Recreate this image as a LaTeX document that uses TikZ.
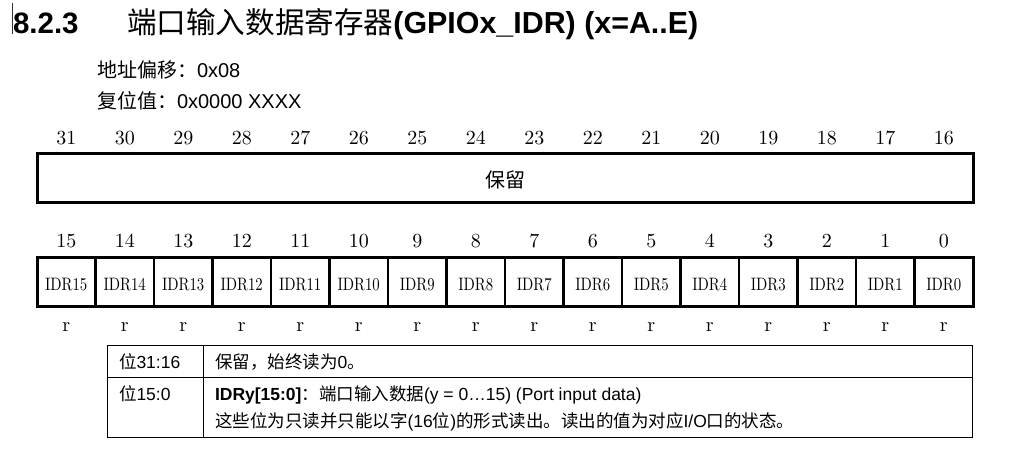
\documentclass[tikz,border=0pt]{standalone}
\usepackage{fontspec}
\newfontfamily\cjk{Noto Sans CJK SC}
\newfontfamily\arial{Liberation Sans}
\newfontfamily\lmcond[FakeStretch=0.82]{lmroman10-regular.otf}
\newfontfamily\lmreg{lmroman10-regular.otf}
\begin{document}
\begin{tikzpicture}[x=1pt,y=-1pt,
  txt/.style={inner sep=0pt,outer sep=0pt},
  title/.style={txt,anchor=base west},
  bitnum/.style={txt,anchor=base,font=\fontsize{20}{24}\selectfont\lmreg},
  idrlab/.style={txt,anchor=base,font=\fontsize{18}{22}\selectfont\lmcond},
  regline/.style={line width=3pt},
  divline/.style={line width=2.4pt},
  tabline/.style={line width=1pt},
  tabtxt/.style={txt,anchor=base west,font=\fontsize{17.5}{21}\selectfont\arial}]
\useasboundingbox (0,0) rectangle (1009,467);
% cursor line
\draw[line width=1pt,black!80] (12,3) -- (12,34);
% title
\node[title] (secnum) at (13,33) {\fontsize{29.5}{32}\selectfont\arial\bfseries 8.2.3};
\node[title] (sectitle) at (127,33) {\fontsize{29.6}{32}\selectfont\cjk 端口输入数据寄存器\fontsize{30.4}{32}\selectfont\arial\bfseries(GPIOx\_IDR) (x=A..E)};
\node[title] (offset) at (97,77.5) {\fontsize{20}{24}\selectfont\cjk 地址偏移：\arial 0x08};
\node[title] (reset) at (97,108.5) {\fontsize{20}{24}\selectfont\cjk 复位值：\arial 0x0000 XXXX};
% upper register
\draw[regline] (37,153) rectangle (973,202);
\node[txt,font=\fontsize{20}{24}\selectfont\cjk] (resv) at (505,180) {保留};
\foreach \i in {0,...,15} {
  \pgfmathtruncatemacro{\hb}{31-\i}
  \node[bitnum] (hb\hb) at ({37+58.5*(\i+0.5)},144) {\hb};
}
% lower register
\draw[regline] (37,257) rectangle (973,306);
\foreach \i in {1,...,15} {
  \draw[divline] ({37+58.5*\i},257) -- ({37+58.5*\i},306);
}
\foreach \i in {0,...,15} {
  \pgfmathtruncatemacro{\lb}{15-\i}
  \node[bitnum] (lb\lb) at ({37+58.5*(\i+0.5)},247) {\lb};
  \node[idrlab] (idr\lb) at ({37+58.5*(\i+0.5)},290) {IDR\lb};
  \node[bitnum] (acc\lb) at ({37+58.5*(\i+0.5)},331) {r};
}
% description table
\draw[tabline] (107,345.5) rectangle (972,437);
\draw[tabline] (107,377.3) -- (972,377.3);
\draw[tabline] (203.5,345.5) -- (203.5,437);
\node[tabtxt] (r1c1) at (119,368) {\cjk 位\arial 31:16};
\node[tabtxt] (r1c2) at (215,368) {\cjk 保留，始终读为\arial 0\cjk 。};
\node[tabtxt] (r2c1) at (119,400) {\cjk 位\arial 15:0};
\node[tabtxt] (r2c2a) at (215,400) {\bfseries IDRy[15:0]\mdseries\cjk ：端口输入数据\arial (y = 0…15) (Port input data)};
\node[tabtxt] (r2c2b) at (215,427) {\cjk 这些位为只读并只能以字\arial (16\cjk 位\arial )\cjk 的形式读出。读出的值为对应\arial I/O\cjk 口的状态。};
\end{tikzpicture}
\end{document}
